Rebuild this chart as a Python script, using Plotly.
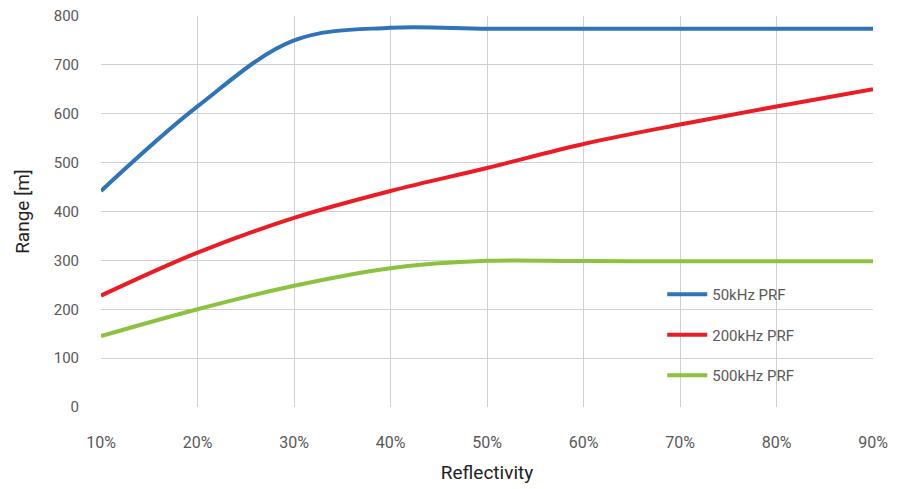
import plotly.graph_objects as go

reflectivity = [10, 20, 30, 40, 50, 60, 70, 80, 90]
tick_labels = ["10%", "20%", "30%", "40%", "50%", "60%", "70%", "80%", "90%"]
range_50khz = [442, 615, 750, 776, 774, 774, 774, 774, 774]
range_200khz = [228, 316, 387, 442, 489, 538, 578, 615, 650]
range_500khz = [145, 200, 248, 284, 299, 298.5, 298, 298, 298]

series = [
    ("50kHz PRF", range_50khz, "#2F73B8"),
    ("200kHz PRF", range_200khz, "#EC1C24"),
    ("500kHz PRF", range_500khz, "#8CC23F"),
]

fig = go.Figure()
for i, (name, vals, color) in enumerate(series):
    fig.add_trace(go.Scatter(
        x=reflectivity, y=vals, name=name, mode="lines",
        line=dict(color=color, width=4, shape="spline", smoothing=1.0),
        legendgroup=f"g{i}",
    ))

font_family = "Roboto, Noto Sans, sans-serif"
fig.update_layout(
    width=897, height=481,
    margin=dict(l=93, r=32, t=8, b=82),
    paper_bgcolor="white", plot_bgcolor="white",
    font=dict(family=font_family, size=16, color="#595959"),
    showlegend=True,
    legend=dict(
        x=0.727, y=0.33, xanchor="left", yanchor="top",
        bgcolor="rgba(0,0,0,0)", itemwidth=40, tracegroupgap=18,
        font=dict(size=15, color="#595959"),
    ),
    xaxis=dict(
        range=[10, 90], tickvals=reflectivity, ticktext=tick_labels,
        showgrid=True, gridcolor="#D0D0D0", gridwidth=1,
        zeroline=False, showline=False, ticks="",
        ticklabelstandoff=24, automargin=False, ticklabeloverflow="allow",
        title=dict(text="Reflectivity", font=dict(size=19, color="#222222"), standoff=14),
    ),
    yaxis=dict(
        range=[0, 800], dtick=100,
        showgrid=True, gridcolor="#D0D0D0", gridwidth=1,
        zeroline=False, showline=False, ticks="",
        tickfont=dict(size=15),
        ticklabelstandoff=21, automargin=False, ticklabeloverflow="allow",
        title=dict(text="Range [m]", font=dict(size=19, color="#222222"), standoff=19),
    ),
)

fig.write_html("out.html")
